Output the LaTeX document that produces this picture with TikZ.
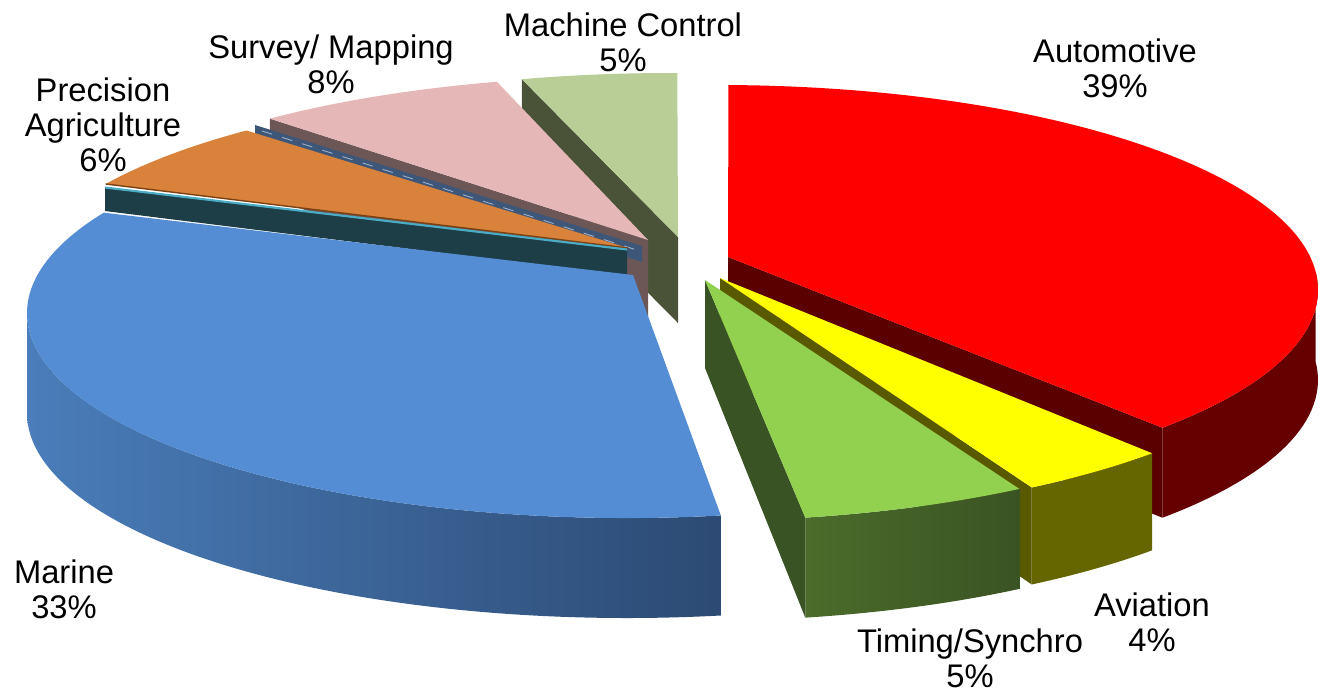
\documentclass[tikz,border=0pt]{standalone}
\usepackage{fontspec}
\setmainfont{Liberation Sans}
\usetikzlibrary{calc}
\definecolor{autotop}{HTML}{FF0000}
\definecolor{autoside}{HTML}{660000}
\definecolor{autocut}{HTML}{5A0000}
\definecolor{avtop}{HTML}{FFFF00}
\definecolor{avside}{HTML}{666600}
\definecolor{avcut}{HTML}{595900}
\definecolor{timtop}{HTML}{92D050}
\definecolor{timsidel}{HTML}{4B6C2B}
\definecolor{timsider}{HTML}{3A5323}
\definecolor{timcut}{HTML}{3A5324}
\definecolor{martop}{HTML}{548DD4}
\definecolor{marsidel}{HTML}{4A7DBA}
\definecolor{marsider}{HTML}{2C4A73}
\definecolor{agrtop}{HTML}{D9823B}
\definecolor{agredge}{HTML}{7A4214}
\definecolor{tealtop}{HTML}{4BACC6}
\definecolor{tealcut}{HTML}{1D3D47}
\definecolor{slatecut}{HTML}{3E5677}
\definecolor{slateline}{HTML}{9DB3D0}
\definecolor{surtop}{HTML}{E5B8B7}
\definecolor{surcut}{HTML}{6C5656}
\definecolor{mctop}{HTML}{B9CD96}
\definecolor{mccut}{HTML}{4A5338}
\begin{document}
\begin{tikzpicture}[x=0.01cm,y=-0.01cm,
    lbl/.style={align=center,inner sep=0pt,font=\fontsize{9.3}{10}\selectfont}]
\useasboundingbox (0,0) rectangle (1320,690);
\coordinate (mcc) at (670,273);
\coordinate (mcapex) at (678,237);
\coordinate (mcl) at ($(mcc)+(-104.3:600 and 200)$);
\fill[mccut] (mcl) -- (mcapex) -- ++(0,86) -- ($(mcl)+(0,86)$) -- cycle;
\fill[mctop] (mcapex) -- (mcl) arc[start angle=-104.3,end angle=-89.3,x radius=600,y radius=200] -- cycle;
\coordinate (surc) at (640,276);
\coordinate (surapex) at (648,240);
\coordinate (surl) at ($(surc)+(-128.1:600 and 200)$);
\fill[surcut] (surl) -- (surapex) -- ++(0,80) -- ($(surl)+(0,80)$) -- cycle;
\fill[surtop] (surapex) -- (surl) arc[start angle=-128.1,end angle=-103.8,x radius=600,y radius=200] -- cycle;
\fill[slatecut] (255,125) -- (642,246) -- (642,262) -- (255,139) -- cycle;
\draw[slateline,dashed,line width=0.25pt] (262,131) -- (640,251);
\coordinate (agrc) at (620,287);
\coordinate (agrapex) at (628,248);
\coordinate (agrl) at ($(agrc)+(-149:600 and 200)$);
\fill[agrtop] (agrapex) -- (agrl) arc[start angle=-149,end angle=-128.5,x radius=600,y radius=200] -- cycle;
\fill[tealcut] (105,188) -- (627,250) -- (627,276) -- (105,211) -- cycle;
\draw[agredge,line width=0.4pt] (agrl) -- (agrapex);
\draw[tealtop,line width=0.6pt] (105,187.5) -- (627,249.5);
\coordinate (marc) at (627,313);
\coordinate (marapex) at (633,275);
\coordinate (marr) at ($(marc)+(81:600 and 205)$);
\shade[left color=marsidel,right color=marsider] (marr) arc[start angle=81,end angle=180,x radius=600,y radius=205] -- ++(0,100) arc[start angle=180,end angle=81,x radius=600,y radius=205] -- cycle;
\fill[martop] (marapex) -- (marr) arc[start angle=81,end angle=209.3,x radius=600,y radius=205] -- cycle;
\coordinate (autoc) at (718,290);
\coordinate (autoapex) at (728,257);
\coordinate (autoend) at ($(autoc)+(42.2:600 and 205)$);
\fill[autoside] ($(autoc)+(-5:600 and 205)$) arc[start angle=-5,end angle=42.2,x radius=600,y radius=205] -- ++(0,90) arc[start angle=42.2,end angle=-5,x radius=600,y radius=205] -- cycle;
\fill[autocut] (autoapex) -- (autoend) -- ++(0,90) -- ($(autoapex)+(0,90)$) -- cycle;
\fill[autotop] (autoapex) -- ($(autoc)+(-89:600 and 205)$) arc[start angle=-89,end angle=42.2,x radius=600,y radius=205] -- cycle;
\coordinate (avc) at (712,314);
\coordinate (avapex) at (720,278);
\coordinate (avr) at ($(avc)+(42.8:600 and 205)$);
\coordinate (avl) at ($(avc)+(57.8:600 and 205)$);
\fill[avside] (avr) arc[start angle=42.8,end angle=57.8,x radius=600,y radius=205] -- ++(0,97) arc[start angle=57.8,end angle=42.8,x radius=600,y radius=205] -- cycle;
\fill[avcut] (avapex) -- (avl) -- ++(0,97) -- ($(avapex)+(0,92)$) -- cycle;
\fill[avtop] (avapex) -- (avr) arc[start angle=42.8,end angle=57.8,x radius=600,y radius=205] -- cycle;
\coordinate (timc) at (697,316);
\coordinate (timapex) at (705,280);
\coordinate (timr) at ($(timc)+(57.5:600 and 205)$);
\coordinate (timl) at ($(timc)+(79.6:600 and 205)$);
\shade[left color=timsidel,right color=timsider] (timr) arc[start angle=57.5,end angle=79.6,x radius=600,y radius=205] -- ++(0,100) arc[start angle=79.6,end angle=57.5,x radius=600,y radius=205] -- cycle;
\fill[timcut] (timapex) -- (timl) -- ++(0,100) -- ($(timapex)+(0,88)$) -- cycle;
\fill[timtop] (timapex) -- (timr) arc[start angle=57.5,end angle=79.6,x radius=600,y radius=205] -- cycle;
\node[lbl] (mclbl) at (623,42) {Machine Control\\5\%};
\node[lbl] (surlbl) at (331,64) {Survey/ Mapping\\8\%};
\node[lbl] (agrlbl) at (103,125) {Precision\\Agriculture\\6\%};
\node[lbl] (autolbl) at (1115,68) {Automotive\\39\%};
\node[lbl] (marlbl) at (64,589) {Marine\\33\%};
\node[lbl] (timlbl) at (970,658) {Timing/Synchro\\5\%};
\node[lbl] (avlbl) at (1152,622) {Aviation\\4\%};
\end{tikzpicture}
\end{document}
